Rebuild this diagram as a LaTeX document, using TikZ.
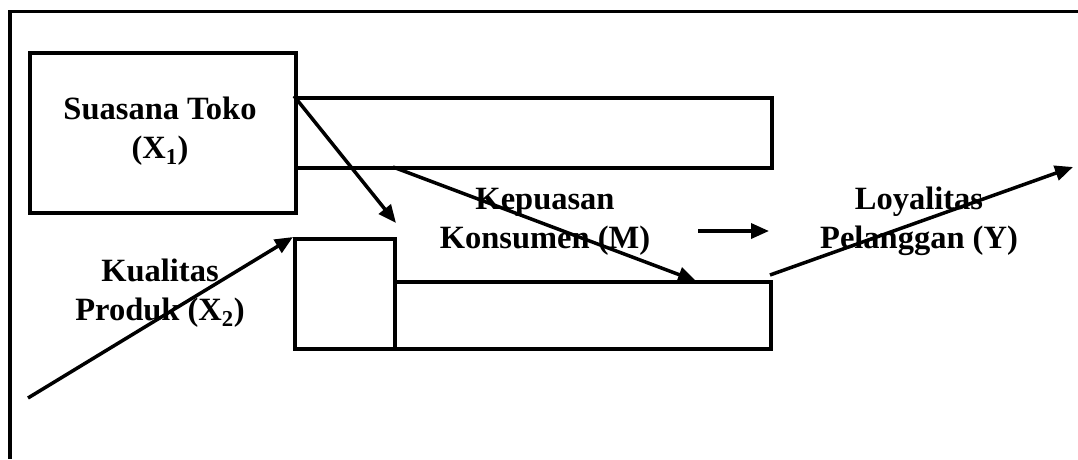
\documentclass[tikz,border=0pt]{standalone}
\usepackage{fontspec}
\setmainfont{Liberation Serif}
\usetikzlibrary{arrows.meta}
\tikzset{
  boxn/.style={draw, line width=3.5pt, anchor=north west, inner sep=0pt},
  lbl/.style={align=center, inner sep=0pt, font=\fontsize{32.5}{39}\selectfont\bfseries},
  arr/.style={line width=3.5pt, -{Triangle[length=18pt,width=15pt]}},
}
\begin{document}
\begin{tikzpicture}[x=1pt,y=-1pt]
\useasboundingbox (0,0) rectangle (1078,459);
% frame
\draw[line width=3.5pt] (1078,11.5) -- (10,11.5) -- (10,459);
% boxes
\node[boxn, line width=4pt, minimum width=266pt, minimum height=160pt] (x1) at (28,51) {};
\node[boxn, minimum width=476pt, minimum height=70pt] (topr) at (294,96) {};
\node[boxn, minimum width=100pt, minimum height=110pt] (x2) at (293,237) {};
\node[boxn, minimum width=376pt, minimum height=67pt] (botr) at (393,280) {};
% labels
\node[lbl] (tx1) at (160,131) {Suasana Toko\\(X\textsubscript{1})};
\node[lbl] (tx2) at (160,293) {Kualitas\\Produk (X\textsubscript{2})};
\node[lbl] (tm) at (545,222) {Kepuasan\\Konsumen (M)};
\node[lbl] (ty) at (919,221) {Loyalitas\\Pelanggan (Y)};
% coordinates
\coordinate (a1e) at (396,223);
\coordinate (a2s) at (28,398);
\coordinate (a3s) at (393,167);
\coordinate (a3e) at (696,281);
\coordinate (a4s) at (698,231);
\coordinate (a4e) at (769,231);
\coordinate (a5s) at (770,275);
\coordinate (a5e) at (1073,167);
% arrows
\draw[arr] (topr.north west) -- (a1e);
\draw[arr] (a2s) -- (x2.north west);
\draw[arr] (a3s) -- (a3e);
\draw[arr] (a4s) -- (a4e);
\draw[arr] (a5s) -- (a5e);
\end{tikzpicture}
\end{document}
